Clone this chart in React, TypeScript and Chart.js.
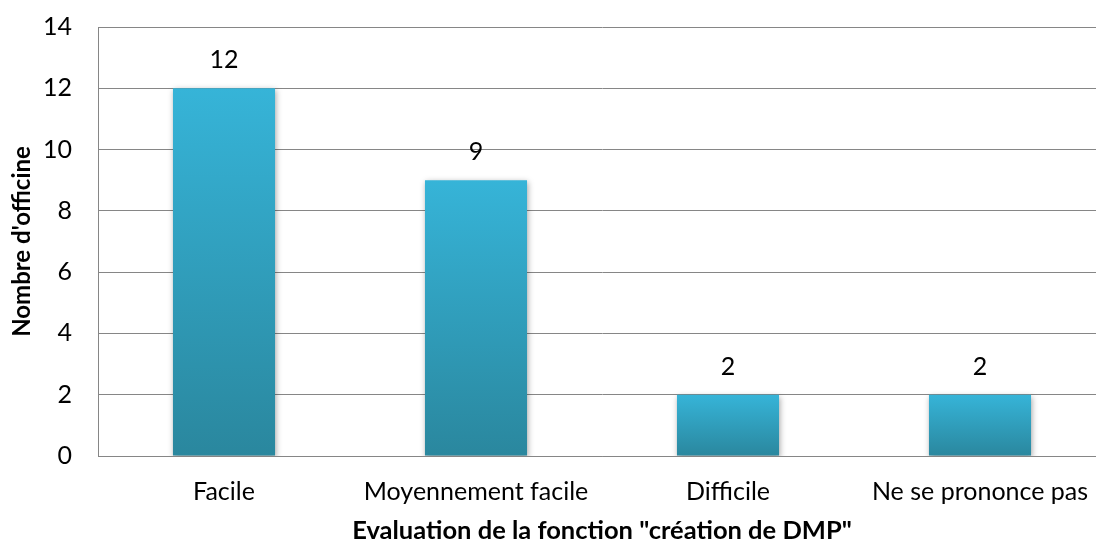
import React, { useEffect, useRef } from "react";
import { Chart, registerables } from "chart.js";

Chart.register(...registerables);

const categories = ["Facile", "Moyennement facile", "Difficile", "Ne se prononce pas"];
const values = [12, 9, 2, 2];
const yTitle = "Nombre d'officine";
const xTitle = 'Evaluation de la fonction "création de DMP"';
const FONT = "Lato";

const shadowPlugin = {
  id: "barShadow",
  beforeDatasetDraw(chart: any) {
    const ctx = chart.ctx;
    ctx.save();
    ctx.shadowColor = "rgba(0,0,0,0.35)";
    ctx.shadowBlur = 6;
    ctx.shadowOffsetX = 1;
    ctx.shadowOffsetY = 2;
  },
  afterDatasetDraw(chart: any) {
    chart.ctx.restore();
  },
};

const labelPlugin = {
  id: "valueLabels",
  afterDatasetsDraw(chart: any) {
    const ctx = chart.ctx;
    const meta = chart.getDatasetMeta(0);
    ctx.save();
    ctx.fillStyle = "#000";
    ctx.font = `25px ${FONT}`;
    ctx.textAlign = "center";
    ctx.textBaseline = "middle";
    meta.data.forEach((el: any, i: number) => {
      ctx.fillText(String(values[i]), el.x, el.y - 28);
    });
    ctx.restore();
  },
};

export default function App() {
  const ref = useRef<HTMLCanvasElement>(null);
  useEffect(() => {
    const canvas = ref.current!;
    const chart = new Chart(canvas, {
      type: "bar",
      data: {
        labels: categories,
        datasets: [
          {
            data: values,
            backgroundColor: (c: any) => {
              const ch = c.chart;
              const ys = ch.scales?.y;
              if (!ys || c.raw === undefined) return "#33afd3";
              const top = ys.getPixelForValue(c.raw);
              const bot = ys.getPixelForValue(0);
              if (!isFinite(top) || !isFinite(bot) || top === bot) return "#33afd3";
              const g = ch.ctx.createLinearGradient(0, top, 0, bot);
              g.addColorStop(0, "#36b4d8");
              g.addColorStop(1, "#2a879e");
              return g;
            },
            borderWidth: 0,
            barPercentage: 0.405,
            categoryPercentage: 1,
          },
        ],
      },
      options: {
        animation: false,
        responsive: false,
        maintainAspectRatio: false,
        layout: { padding: { top: 27, right: 0, left: 0, bottom: 0 } },
        plugins: { legend: { display: false }, tooltip: { enabled: false } },
        scales: {
          x: {
            afterFit: (s: any) => {
              s.height = 87;
            },
            grid: { display: false, drawTicks: true, tickLength: 21 },
            border: { display: true, color: "#868686", width: 1 },
            ticks: { color: "#000", font: { family: FONT, size: 25 }, padding: 0 },
            title: {
              display: true,
              text: xTitle,
              color: "#000",
              font: { family: FONT, size: 25.5, weight: "bold" },
              padding: { top: 0, bottom: -3 },
            },
          },
          y: {
            min: 0,
            max: 14,
            afterFit: (s: any) => {
              s.width = 98;
            },
            ticks: { stepSize: 2, color: "#000", font: { family: FONT, size: 25 }, padding: 0 },
            grid: {
              color: "#868686",
              lineWidth: 1,
              drawTicks: true,
              tickLength: 26,
              tickColor: "rgba(0,0,0,0)",
            },
            border: { display: true, color: "#868686", width: 1 },
            title: {
              display: true,
              text: yTitle,
              color: "#000",
              font: { family: FONT, size: 24, weight: "bold" },
              padding: { top: 8, bottom: 0 },
            },
          },
        },
      },
      plugins: [shadowPlugin, labelPlugin],
    });
    return () => chart.destroy();
  }, []);
  return (
    <div style={{ position: "fixed", left: 0, top: 0, width: 1096, height: 543, background: "#fff", overflow: "hidden" }}>
      <canvas ref={ref} width={1106} height={543} style={{ width: 1106, height: 543, display: "block" }} />
    </div>
  );
}
